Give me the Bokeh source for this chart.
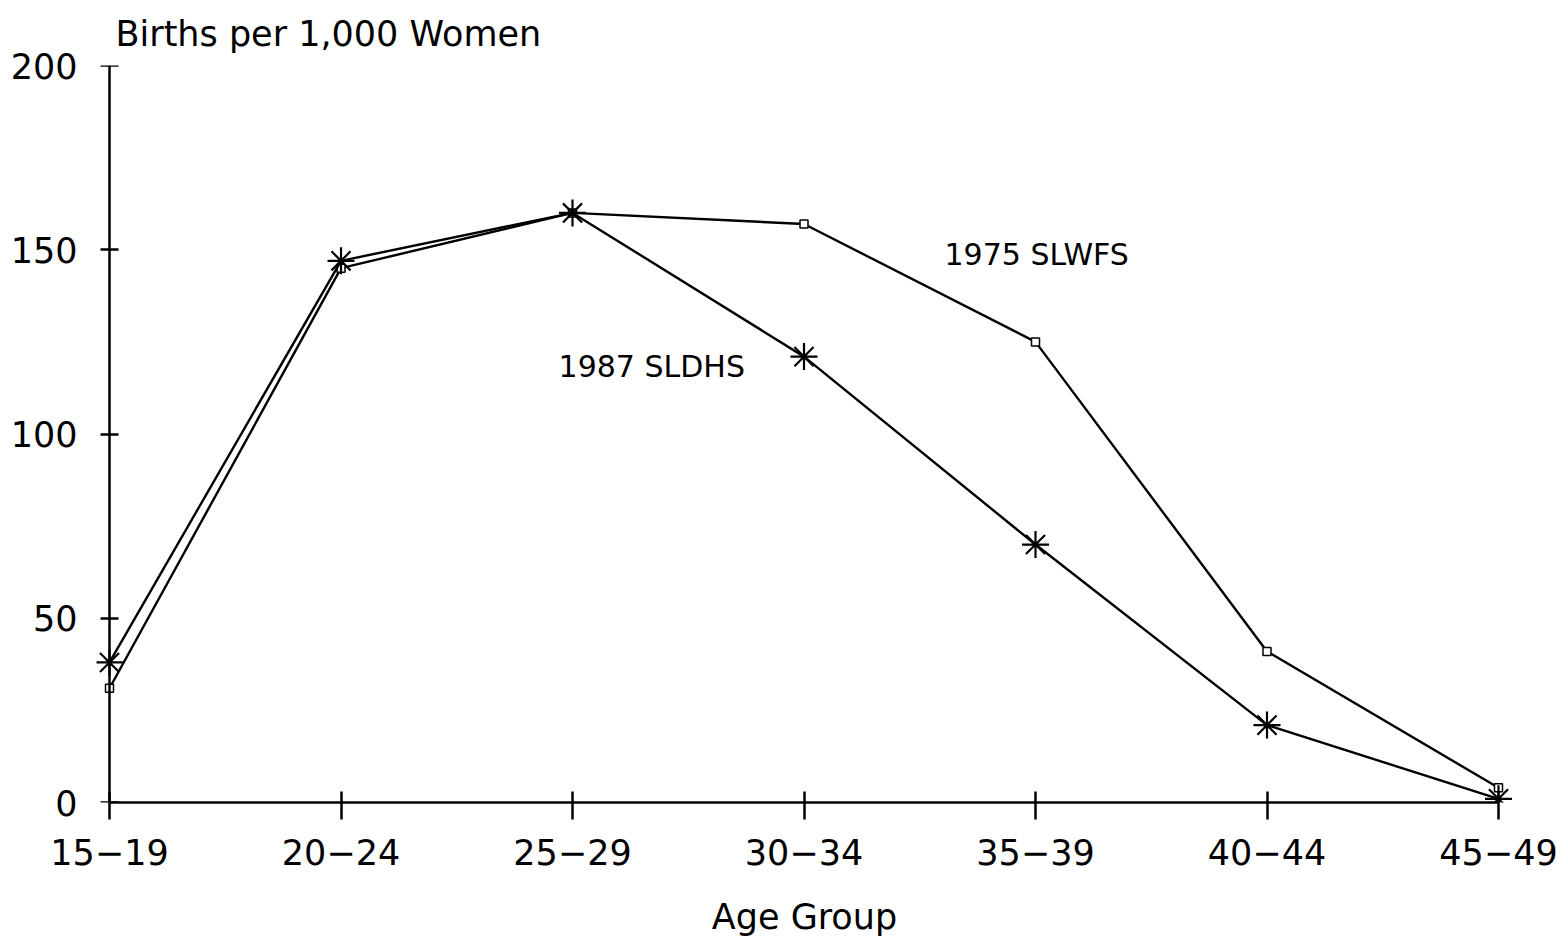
from bokeh.plotting import figure
from bokeh.models import Range1d, FixedTicker, Label, Title, LinearAxis
from bokeh.embed import file_html
from bokeh.resources import INLINE

age_groups = ["15\u221219", "20\u221224", "25\u221229", "30\u221234", "35\u221239", "40\u221244", "45\u221249"]
slwfs_1975 = [31, 145, 160, 157, 125, 41, 4]
sldhs_1987 = [38, 147, 160, 121, 70, 21, 1]
y_ticks = [0, 50, 100, 150, 200]

xs = list(range(len(age_groups)))
FONT = "DejaVu Sans"

# layout (pixels)
LEFT = 96          # frame left edge
AXIS_X = 109       # where the first category / y axis sits
LAST_X = 1498      # where the last category sits
RIGHT_PAD = 14
unit = (LAST_X - AXIS_X) / (len(age_groups) - 1)
x_start = -(AXIS_X - LEFT) / unit
x_end = (len(age_groups) - 1) + RIGHT_PAD / unit

p = figure(frame_width=(LAST_X + RIGHT_PAD) - LEFT, frame_height=737,
           output_backend="svg", toolbar_location=None,
           x_range=Range1d(x_start, x_end), y_range=Range1d(0, 200),
           min_border_left=LEFT, min_border_right=48, min_border_top=65, min_border_bottom=10)
p.outline_line_color = None
p.grid.grid_line_color = None
p.background_fill_color = "white"

p.title = Title(text="Births per 1,000 Women", align="left", offset=AXIS_X - LEFT + 6, standoff=23,
                text_font=FONT, text_font_size="35px", text_font_style="normal", text_color="black")

p.line(xs, slwfs_1975, line_color="black", line_width=2.4)
p.scatter(xs, slwfs_1975, marker="square", size=8, fill_color="white", line_color="black", line_width=1.5)
p.line(xs, sldhs_1987, line_color="black", line_width=2.4)
p.scatter(xs, sldhs_1987, marker="asterisk", size=27, line_color="black", line_width=2.2)

xa = p.xaxis[0]
xa.ticker = FixedTicker(ticks=xs)
xa.bounds = (0, len(age_groups) - 1)
xa.major_label_overrides = {i: lab for i, lab in enumerate(age_groups)}
xa.major_tick_in = 11
xa.major_tick_out = 17
xa.minor_tick_line_color = None
xa.axis_line_width = 2.5
xa.major_tick_line_width = 2.5
xa.major_label_text_font = FONT
xa.major_label_text_font_size = "35px"
xa.major_label_text_color = "black"
xa.major_label_standoff = 19
xa.axis_label = "Age Group"
xa.axis_label_text_font = FONT
xa.axis_label_text_font_size = "35px"
xa.axis_label_text_font_style = "normal"
xa.axis_label_text_color = "black"
xa.axis_label_standoff = 29

# y axis line + ticks, drawn at the first age group
ya = p.yaxis[0]
ya.fixed_location = 0
ya.ticker = FixedTicker(ticks=y_ticks)
ya.major_label_overrides = {t: "" for t in y_ticks}
ya.major_label_standoff = 0
ya.major_tick_in = 9
ya.major_tick_out = 9
ya.minor_tick_line_color = None
ya.axis_line_width = 2.5
ya.major_tick_line_width = 2.5

# y tick labels
yl = LinearAxis(ticker=FixedTicker(ticks=y_ticks))
yl.axis_line_color = None
yl.major_tick_line_color = None
yl.minor_tick_line_color = None
yl.major_tick_in = 0
yl.major_tick_out = 0
yl.major_label_text_font = FONT
yl.major_label_text_font_size = "35px"
yl.major_label_text_color = "black"
yl.major_label_standoff = 19
p.add_layout(yl, "left")

p.add_layout(Label(x=3.607, y=148.7, text="1975 SLWFS", text_font=FONT,
                   text_font_size="30px", text_baseline="middle", text_color="black"))
p.add_layout(Label(x=1.94, y=118.3, text="1987 SLDHS", text_font=FONT,
                   text_font_size="30px", text_baseline="middle", text_color="black"))

open("out.html", "w").write(file_html(p, INLINE))
